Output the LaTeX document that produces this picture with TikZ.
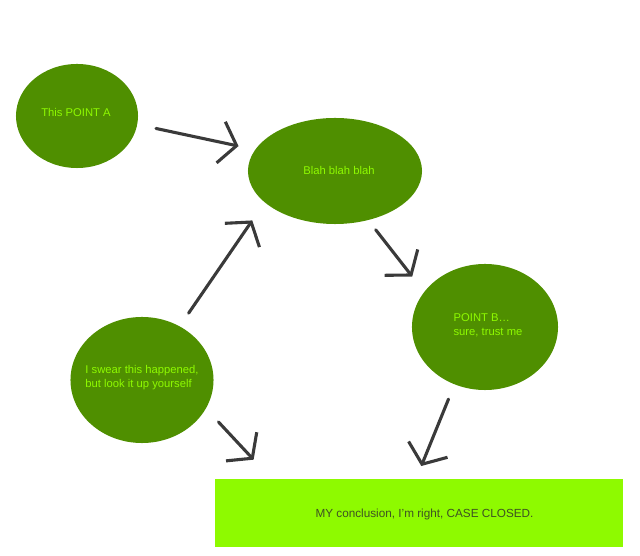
\documentclass[tikz,border=0pt]{standalone}
\usepackage{fontspec}
\setmainfont{Liberation Sans}
\usepackage{tikz}
\usetikzlibrary{arrows.meta}
\usetikzlibrary{shapes.geometric}

\definecolor{fern}{HTML}{4F8F00}
\definecolor{lime}{HTML}{8EFA00}
\definecolor{inkgray}{HTML}{3A3A3A}
\definecolor{concltext}{HTML}{3E5222}

\tikzset{
  blob/.style={ellipse, fill=fern, inner sep=0pt, outer sep=0pt},
  blobtext/.style={text=lime, font=\fontsize{8}{10}\selectfont, inner sep=0pt, align=left},
  conclbox/.style={rectangle, fill=lime, minimum width=10.2cm, minimum height=1.7cm,
    inner sep=0pt, outer sep=0pt},
  concltxt/.style={text=concltext, font=\fontsize{8.35}{10}\selectfont, inner sep=0pt},
  pointer/.style={draw=inkgray, line width=2.2pt, line cap=round, line join=round,
    -{Straight Barb[length=4mm, width=10.5mm, line width=2.2pt]}}
}

\begin{document}
\begin{tikzpicture}[x=0.025cm, y=-0.025cm]
\useasboundingbox (0,0) rectangle (640,556);

% ellipses
\node[blob, minimum width=3.05cm, minimum height=2.6cm] (pa) at (77,116) {};
\node[blob, minimum width=4.35cm, minimum height=2.65cm] (blah) at (335,171) {};
\node[blob, minimum width=3.65cm, minimum height=3.15cm] (pb) at (485,327) {};
\node[blob, minimum width=3.575cm, minimum height=3.15cm] (swear) at (142,380) {};

\node[blobtext] (pa-t) at (76,112) {This POINT A};
\node[blobtext] (blah-t) at (339,170) {Blah blah blah};
\node[blobtext] (pb-t) at (488,325) {POINT B\ldots\\sure, trust me};
\node[blobtext] (swear-t) at (142,378) {I swear this happened,\\but look it up yourself};

% conclusion
\node[conclbox] (concl) at (419,513) {};
\node[concltxt] (concl-t) at (424.5,514) {MY conclusion, I'm right, CASE CLOSED.};

% arrows
\draw[pointer, shorten <=0.48cm, shorten >=0.43cm] (pa.-8.4) -- (blah.165.8);
\draw[pointer, shorten <=0.31cm, shorten >=0.49cm] (blah.-56.7) -- (pb.150.3);
\draw[pointer, shorten <=0.40cm, shorten >=0.55cm] (swear.55.7) -- (blah.204.8);
\draw[pointer, shorten <=0.46cm, shorten >=0.66cm] (swear.-24.1) -- (concl.167.9);
\draw[pointer, shorten <=0.40cm, shorten >=0.35cm] (pb.-118.5) -- (concl.95.4);

\end{tikzpicture}
\end{document}
